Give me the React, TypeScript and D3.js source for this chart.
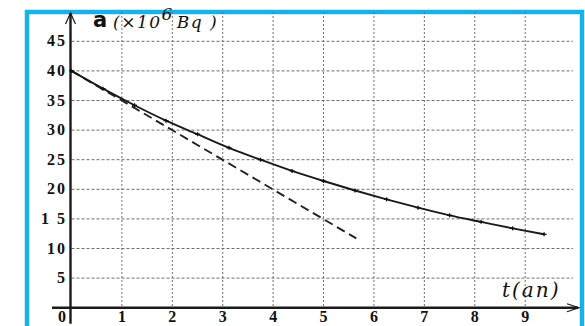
import * as d3 from "d3";

// lectures sur le graphe
const timeValues = [0, 0.625, 1.25, 1.875, 2.5, 3.125, 3.75, 4.375, 5, 5.625, 6.25, 6.875, 7.5, 8.125, 8.75, 9.375];
const activityValues = [40, 37, 34.2, 31.6, 29.3, 27.0, 25.0, 23.1, 21.4, 19.8, 18.3, 16.9, 15.6, 14.5, 13.4, 12.4];
const tangentT = [0, 5.65];
const tangentA = [40, 11.7];
const xTicks = [0, 1, 2, 3, 4, 5, 6, 7, 8, 9];
const yTicks = [5, 10, 15, 20, 25, 30, 35, 40, 45];
const yTickLabels = ["5", "10", "1 5", "20", "25", "30", "35", "40", "45"];

const W = 585;
const H = 326;

export default function App() {
  const x = d3.scaleLinear().domain([0, 10]).range([71.5, 575.6]);
  const y = d3.scaleLinear().domain([0, 45]).range([307.7, 41.3]);
  const gridRight = 573;
  const gridTop = 12;

  const curve = d3
    .line<number>()
    .x((_, i) => x(timeValues[i]))
    .y((d) => y(d))
    .curve(d3.curveMonotoneX);

  const tangent = d3
    .line<number>()
    .x((_, i) => x(tangentT[i]))
    .y((d) => y(d));

  const axisColor = "#1a1a1a";
  const labelFont = "Liberation Serif, serif";

  return (
    <svg
      width={W}
      height={H}
      style={{ position: "absolute", left: 0, top: 0, background: "#fff" }}
    >
      {/* cadre bleu */}
      <rect x={27} y={12} width={555} height={H + 10} fill="none" stroke="#18b2e9" strokeWidth={4.5} />

      {/* quadrillage */}
      <g stroke="#6e6e6e" strokeWidth={1}>
        {yTicks.map((t) => (
          <line key={"h" + t} x1={x(0)} x2={gridRight} y1={y(t)} y2={y(t)} strokeDasharray="3 2" />
        ))}
        {xTicks.slice(1).map((t) => (
          <line key={"v" + t} x1={x(t)} x2={x(t)} y1={gridTop} y2={y(0)} strokeDasharray="2 2" />
        ))}
      </g>

      {/* axes */}
      <g stroke={axisColor} strokeWidth={2.4} fill="none">
        <line x1={x(0) - 1} x2={x(0) - 1} y1={y(0) + 16} y2={gridTop + 1} />
        <line x1={52} x2={578} y1={y(0)} y2={y(0)} />
        <polyline points={`${x(0) - 6},${gridTop + 12} ${x(0) - 1},${gridTop + 1} ${x(0) + 4},${gridTop + 12}`} strokeWidth={1.2} />
        <polyline points={`567,${y(0) - 4} 579,${y(0)} 567,${y(0) + 4}`} strokeWidth={1.2} />
      </g>

      {/* tangente */}
      <path
        d={tangent(tangentA) ?? ""}
        fill="none"
        stroke="#222"
        strokeWidth={1.9}
        strokeDasharray="9 5"
      />

      {/* courbe */}
      <path d={curve(activityValues) ?? ""} fill="none" stroke="#1a1a1a" strokeWidth={1.9} />
      <g stroke="#111" strokeWidth={1.3}>
        {activityValues.map((a, i) => (
          <g key={i}>
            <line x1={x(timeValues[i]) - 2.5} x2={x(timeValues[i]) + 2.5} y1={y(a)} y2={y(a)} />
            <line x1={x(timeValues[i])} x2={x(timeValues[i])} y1={y(a) - 2} y2={y(a) + 2} />
          </g>
        ))}
      </g>

      {/* graduations */}
      <g fontFamily={labelFont} fontWeight="bold" fontSize={16} fill="#111" letterSpacing={2}>
        {yTicks.map((t, i) => (
          <text key={t} x={67} y={y(t) + 5} textAnchor="end">
            {yTickLabels[i]}
          </text>
        ))}
        {xTicks.map((t) => (
          <text key={t} x={t === 0 ? 63 : x(t) + 1} y={322} textAnchor="middle">
            {t}
          </text>
        ))}
      </g>

      {/* titres des axes */}
      <text x={93} y={27} fontFamily="DejaVu Sans, sans-serif" fontWeight="bold" fontSize={21} fill="#111">
        a
      </text>
      <text x={113} y={28} fontFamily="DejaVu Serif, serif" fontStyle="italic" fontSize={17} fill="#111" letterSpacing={1.5}>
        (×10<tspan dy={-8} fontSize={17}>6</tspan>
        <tspan dy={8} dx={3}>Bq )</tspan>
      </text>
      <text x={502} y={297} fontFamily="DejaVu Serif, serif" fontStyle="italic" fontSize={20} fill="#111" letterSpacing={2}>
        t(an)
      </text>
    </svg>
  );
}
